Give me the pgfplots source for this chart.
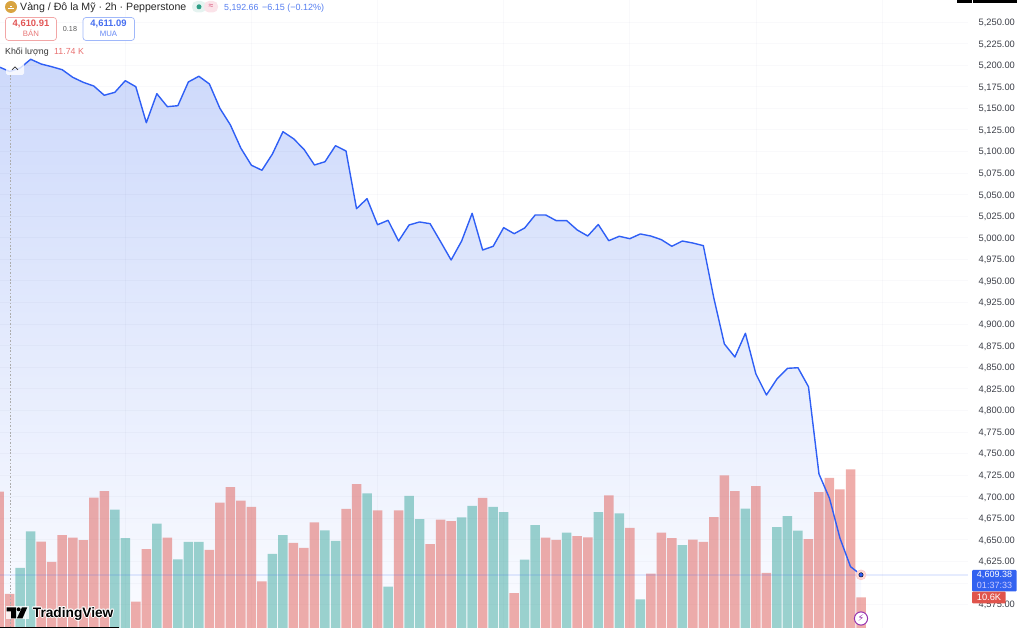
\documentclass[border=0pt]{standalone}
\usepackage{pgfplots}
\usepackage{pgfplotstable}
\usepackage{fontspec}
\pgfplotsset{compat=1.18}
\setmainfont{Liberation Sans}
\newfontfamily\dejavu{DejaVu Sans}
\definecolor{pline}{HTML}{2F5FF5}
\definecolor{ptop}{HTML}{CDD9FB}
\definecolor{pbot}{HTML}{FBFCFF}
\definecolor{vred}{HTML}{E05C56}
\definecolor{vgreen}{HTML}{2FA297}
\definecolor{lab}{HTML}{3A3D46}
\definecolor{gold}{HTML}{D9A441}
\definecolor{pillg}{HTML}{E5F3F0}
\definecolor{pillr}{HTML}{FBE3E9}
\definecolor{dotg}{HTML}{2E9E86}
\definecolor{dotr}{HTML}{D65078}
\definecolor{chg}{HTML}{567EF0}
\definecolor{bordr}{HTML}{F2A6A6}
\definecolor{bordb}{HTML}{A0B8FA}
\definecolor{txtr}{HTML}{E25555}
\definecolor{txtrl}{HTML}{E87878}
\definecolor{txtb}{HTML}{466EF0}
\definecolor{txtbl}{HTML}{6487F5}
\definecolor{volt}{HTML}{E87070}
\definecolor{boxb}{HTML}{3262F0}
\definecolor{boxr}{HTML}{E0544C}
\definecolor{purp}{HTML}{9632AF}
\pgfplotstableread{
i p
0 5197.9
1 5192.66
2 5196.7
3 5206.8
4 5201.3
5 5198.2
6 5194.7
7 5185.9
8 5180.1
9 5175.8
10 5165.1
11 5168.5
12 5182.0
13 5175.0
14 5133.3
15 5166.9
16 5151.9
17 5153.0
18 5180.5
19 5187.1
20 5178.2
21 5150.0
22 5130.7
23 5103.7
24 5084.0
25 5078.2
26 5097.1
27 5122.9
28 5114.8
29 5102.5
30 5084.3
31 5088.1
32 5106.7
33 5100.5
34 5033.7
35 5045.3
36 5015.1
37 5020.2
38 4996.2
39 5014.8
40 5018.3
41 5016.3
42 4995.4
43 4974.2
44 4996.2
45 5028.3
46 4985.8
47 4990.1
48 5011.7
49 5004.7
50 5011.3
51 5026.4
52 5026.4
53 5019.8
54 5019.8
55 5009.0
56 5002.0
57 5015.4
58 4996.6
59 5001.7
60 4998.9
61 5004.4
62 5002.0
63 4997.8
64 4990.1
65 4996.2
66 4993.9
67 4990.8
68 4929.9
69 4876.9
70 4861.8
71 4889.3
72 4842.1
73 4817.8
74 4836.3
75 4848.7
76 4849.4
77 4827.4
78 4726.3
79 4698.1
80 4651.8
81 4618.9
82 4609.38
}\pricedata
\pgfplotstableread{
i v
0 47.1
1 11.74
4 29.8
5 22.8
6 32.1
7 31.2
8 30.3
9 45.0
10 47.3
13 9.1
14 27.2
16 31.2
20 27.0
21 43.3
22 48.6
23 44.0
24 41.8
25 16.1
28 29.4
29 27.7
30 36.5
33 41.1
34 49.7
36 40.6
38 40.6
41 29.0
42 37.4
43 36.9
46 44.9
49 12.0
52 31.2
53 30.4
55 31.7
56 31.3
58 45.8
60 34.6
62 18.8
63 32.9
64 31.0
66 30.5
67 29.7
68 38.3
69 52.7
70 47.3
72 49.0
73 19.0
77 30.7
78 46.9
79 51.8
80 47.9
81 54.8
82 10.6
}\volred
\pgfplotstableread{
i v
2 20.8
3 33.4
11 40.9
12 31.0
15 36.0
17 23.7
18 29.7
19 29.7
26 25.6
27 32.1
31 33.7
32 30.1
35 46.5
37 14.3
39 45.6
40 37.6
44 38.2
45 42.2
47 41.8
48 40.0
50 23.6
51 35.5
54 32.9
57 40.0
59 39.6
61 9.9
65 28.6
71 41.2
74 34.8
75 38.6
76 33.6
}\volgreen
\pgfplotsset{base/.style={scale only axis,width=968pt,height=628pt,
  xmin=0.078,xmax=92.18,clip=true}}
\begin{document}
\begin{tikzpicture}[x=1pt,y=1pt]
\path[use as bounding box] (0,0) rectangle (1020pt,628pt);
% price area, grid and price scale
\begin{axis}[base,at={(0,0)},anchor=south west,ymin=4547.8,ymax=5275.5,
  axis on top,axis line style={draw=none},major tick length=0pt,
  ytick pos=right,yticklabel pos=right,
  ytick={4575,4600,...,5250},xtick={12,24,...,84},xticklabel=\empty,
  grid=major,grid style={color=blue!30!black,opacity=0.022,line width=0.8pt},
  yticklabel shift=10.5pt,
  yticklabel style={anchor=west,inner sep=0pt,yshift=-0.8pt,font=\fontsize{9.3}{10}\selectfont,text=lab,
   /pgf/number format/.cd,fixed,fixed zerofill,precision=2,1000 sep={,},assume math mode=true}]
\addplot[draw=none,shade,top color=ptop,bottom color=pbot,shading angle=0] table[x=i,y=p]{\pricedata} \closedcycle;
\end{axis}
% volume
\begin{axis}[base,at={(0,0)},anchor=south west,hide axis,ymin=0,ymax=216.85]
\addplot[ybar,bar width=9.5pt,bar shift=0pt,fill=vred,fill opacity=0.5,draw=none] table[x=i,y=v]{\volred};
\addplot[ybar,bar width=9.5pt,bar shift=0pt,fill=vgreen,fill opacity=0.47,draw=none] table[x=i,y=v]{\volgreen};
\end{axis}
% price line
\begin{axis}[base,at={(0,0)},anchor=south west,hide axis,ymin=4547.8,ymax=5275.5]
\addplot[draw=pline,opacity=0.12,line width=1.6pt,forget plot] coordinates {(0.078,4609.38)(92.18,4609.38)};
\addplot[draw=pline,line width=1.4pt,line join=round] table[x=i,y=p]{\pricedata};
\addplot[only marks,mark=*,mark size=5pt,mark options={fill=red!15,draw=red!22,line width=0.5pt}] coordinates {(82,4609.38)};
\addplot[only marks,mark=*,mark size=2.2pt,mark options={fill=pline,draw=none}] coordinates {(82,4609.38)};
\end{axis}
\begin{scope}[shift={(0pt,628pt)},yscale=-1]
% crosshair
\draw[color=black!32,line width=0.7pt,dash pattern=on 1.6pt off 1.8pt] (10,75)--(10,628);
% expand button
\fill[white,opacity=0.8,rounded corners=1.5pt] (6,61.5) rectangle (24,75);
\draw[color=black!80,line width=0.7pt] (12,70)--(15,67)--(18,70);
% header
\fill[color=black] (957,0) rectangle (971.5,3.5);
\fill[color=black] (973,0) rectangle (1017,3.5);
\fill[color=gold] (11,7) circle (6);
\fill[white] (8,9.5) rectangle (10.7,8);\fill[white] (11.3,9.5) rectangle (14,8);\fill[white] (9.7,7.3) rectangle (12.3,5.6);
\node[anchor=base west,inner sep=0pt,text=black!85,font=\fontsize{10.6}{12}\selectfont] at (20,10.8) {Vàng / Đô la Mỹ · 2h · Pepperstone};
\fill[color=pillg,rounded corners=5pt] (192,1) rectangle (206,12.5);
\fill[color=pillr,rounded corners=5pt] (204,1) rectangle (218,12.5);
\fill[color=dotg] (199,6.8) circle (2.5);
\node[inner sep=0pt,text=dotr,font=\fontsize{8.5}{9}\selectfont] at (211,6.8) {≈};
\node[anchor=base west,inner sep=0pt,text=chg,font=\fontsize{8.8}{10}\selectfont] at (224,10.5) {5,192.66};
\node[anchor=base west,inner sep=0pt,text=chg,font=\fontsize{9}{10}\selectfont] at (262,10.5) {−6.15 (−0.12\%)};
% sell and buy boxes
\draw[color=bordr,line width=0.7pt,rounded corners=3pt,fill=white] (5.5,17.5) rectangle (56.5,40.5);
\node[inner sep=0pt,text=txtr,font=\fontsize{9.4}{10}\bfseries] at (31,24.2) {4,610.91};
\node[inner sep=0pt,text=txtrl,font=\fontsize{7.8}{8}\selectfont] at (31,33.6) {BÁN};
\node[inner sep=0pt,text=black!65,font=\fontsize{7.2}{8}\selectfont] at (70,29) {0.18};
\draw[color=bordb,line width=0.7pt,rounded corners=3pt,fill=white] (83,17.5) rectangle (134.5,40.5);
\node[inner sep=0pt,text=txtb,font=\fontsize{9.4}{10}\bfseries] at (108.5,24.2) {4,611.09};
\node[inner sep=0pt,text=txtbl,font=\fontsize{7.8}{8}\selectfont] at (108.5,33.6) {MUA};
\node[anchor=base west,inner sep=0pt,text=black!80,font=\fontsize{8.8}{10}\selectfont] at (5,54.7) {Khối lượng};
\node[anchor=base west,inner sep=0pt,text=volt,font=\fontsize{8.8}{10}\selectfont] at (54,54.7) {11.74 K};
% price and volume labels
\fill[color=boxb,rounded corners=1pt] (972,570) rectangle (1016.7,591.5);
\node[inner sep=0pt,text=white,font=\fontsize{9}{9}\selectfont] at (994.5,575.2) {4,609.38};
\node[inner sep=0pt,text=white!80!blue,font=\fontsize{9}{9}\selectfont] at (994.5,585.8) {01:37:33};
\fill[color=boxr,rounded corners=1pt] (972,591.7) rectangle (1005.7,603.3);
\node[inner sep=0pt,text=white,font=\fontsize{9.3}{10}\selectfont] at (989,597.6) {10.6K};
% lightning badge
\draw[color=purp,line width=1pt,fill=white] (861,618.5) circle (6.6);
\node[inner sep=0pt,text=purp,font=\dejavu\fontsize{9.5}{10}\selectfont] at (861,618.5) {⚡};
% logo
\foreach \dx/\dy in {-1/0,1/0,0/-1,0/1,-.7/-.7,.7/-.7,-.7/.7,.7/.7}{
  \node[anchor=base west,inner sep=0pt,text=white,font=\fontsize{13.7}{14}\bfseries] at (32.7+\dx,617.3+\dy) {TradingView};}
\fill[white,opacity=0.8] (5.5,606) rectangle (28.5,619.5);
\fill[black] (6.7,607.3)--(16,607.3)--(16,618.3)--(11,618.3)--(11,611.3)--(6.7,611.3)--cycle;
\fill[black] (18.6,609.3) circle (2);
\fill[black] (22,607.3)--(27.3,607.3)--(22.5,618.3)--(17,618.3)--cycle;
\node[anchor=base west,inner sep=0pt,text=black,font=\fontsize{13.7}{14}\bfseries] at (32.7,617.3) {TradingView};
\fill[black] (0,627.2) rectangle (119,628);
\end{scope}
\end{tikzpicture}
\end{document}
